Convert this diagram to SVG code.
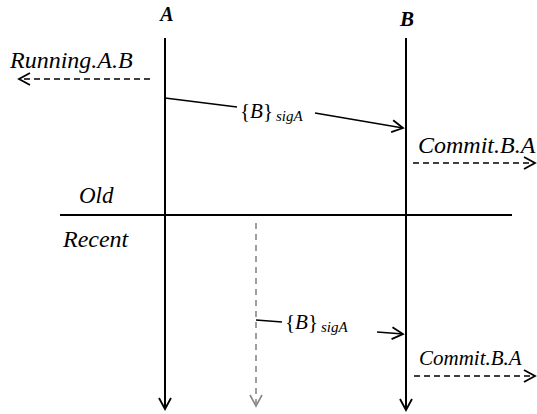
<svg xmlns="http://www.w3.org/2000/svg" width="537" height="414" viewBox="0 0 537 414">
<style>
text{font-family:'Liberation Serif','Times New Roman','DejaVu Serif',serif;font-style:italic;fill:#000}
.h{font-weight:bold}
.msg{font-size:21px}
.sub{font-size:15px}
.up{font-style:normal}
.life{stroke:#000;stroke-width:2;fill:none}
.m{stroke:#000;stroke-width:1.6;fill:none}
.d{stroke:#000;stroke-width:1.6;fill:none;stroke-dasharray:6 4}
.g{stroke:#888;stroke-width:1.6;fill:none;stroke-dasharray:6 5}
</style>
<defs>
<marker id="ah" markerUnits="userSpaceOnUse" markerWidth="16" markerHeight="16" refX="12" refY="7" orient="auto" viewBox="0 0 16 14">
<path d="M1,1 L12,7 L1,13" fill="none" stroke="#000" stroke-width="1.8"/>
</marker>
<marker id="ahg" markerUnits="userSpaceOnUse" markerWidth="16" markerHeight="16" refX="12" refY="7" orient="auto" viewBox="0 0 16 14">
<path d="M1,1 L12,7 L1,13" fill="none" stroke="#888" stroke-width="1.6"/>
</marker>
</defs>
<g id="A">
<text class="h" x="167" y="21" text-anchor="middle" font-size="20">A</text>
</g>
<g id="B">
<text class="h" x="407" y="26" text-anchor="middle" font-size="21">B</text>
</g>
<g id="labels">
<text x="10" y="68" font-size="24">Running.A.B</text>
<text x="418" y="153" font-size="24">Commit.B.A</text>
<text x="79" y="203" font-size="23">Old</text>
<text x="63" y="247" font-size="24">Recent</text>
<text x="419" y="365" font-size="21">Commit.B.A</text>
<text class="msg" x="240" y="118"><tspan class="up">{</tspan>B<tspan class="up">}</tspan><tspan class="sub" dx="3" dy="3">sigA</tspan></text>
<text class="msg" x="285" y="329"><tspan class="up">{</tspan>B<tspan class="up">}</tspan><tspan class="sub" dx="3" dy="3">sigA</tspan></text>
</g>
<g id="connectors">
<line class="life" x1="165" y1="38" x2="165" y2="409" marker-end="url(#ah)"/>
<line class="life" x1="406" y1="38" x2="406" y2="410" marker-end="url(#ah)"/>
<line class="life" x1="60" y1="215" x2="512" y2="215"/>
<line class="g" x1="256" y1="223" x2="256" y2="406" marker-end="url(#ahg)"/>
<line class="d" x1="150" y1="79" x2="19" y2="79" marker-end="url(#ah)"/>
<line class="d" x1="413" y1="163" x2="535" y2="163" marker-end="url(#ah)"/>
<line class="d" x1="414" y1="376" x2="535" y2="376" marker-end="url(#ah)"/>
<line class="m" x1="165" y1="98" x2="237" y2="107"/>
<line class="m" x1="315" y1="113" x2="403" y2="128" marker-end="url(#ah)"/>
<line class="m" x1="256" y1="320" x2="282" y2="322"/>
<line class="m" x1="377" y1="332" x2="403" y2="334" marker-end="url(#ah)"/>
</g>
</svg>
